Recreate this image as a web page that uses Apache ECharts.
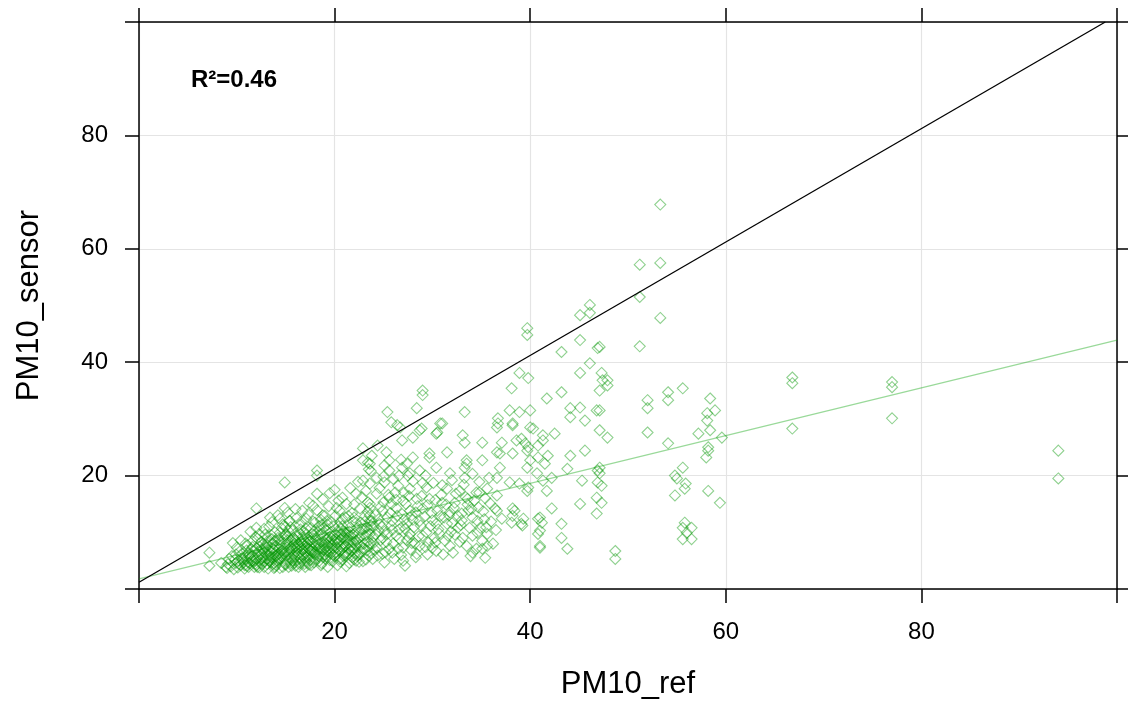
<!DOCTYPE html>
<html>
<head>
<meta charset="utf-8">
<script src="https://cdn.jsdelivr.net/npm/echarts@6/dist/echarts.min.js"></script>
<style>html,body{margin:0;padding:0;background:#fff}#c{width:1128px;height:709px}</style>
</head>
<body>
<div id="c"></div>
<script>
// ---- axis ticks ----
const xTicks = [0, 20, 40, 60, 80, 100];
const yTicks = [0, 20, 40, 60, 80, 100];
const labelledTicks = [20, 40, 60, 80];

// ---- annotation ----
const r2Label = 'R\u00B2=0.46';

// ---- reference lines (PM10_ref, PM10_sensor) ----
const oneToOneLine = [[0, 1.2], [98.8, 100]];
const fitLine = [[0, 1.8], [100, 43.9]];

// ---- observations [PM10_ref, PM10_sensor] ----
const pointsFar = [
  [53.3,67.8],[51.2,57.2],[53.3,57.5],[51.2,51.5],[53.3,47.8],[51.2,42.8],[47.1,42.7],[47.3,38.1],
  [47.4,36.8],[47.9,36.8],[47.9,35.9],[47.1,31.5],[47.1,28.0],[47.9,26.7],[52.0,33.3],[52.0,31.9],
  [54.1,34.7],[54.1,33.3],[55.6,35.4],[58.4,33.6],[58.9,31.5],[58.1,31.0],[58.1,29.7],[52.0,27.6],
  [54.1,25.7],[57.2,27.4],[58.4,28.0],[59.6,26.7],[58.2,25.0],[58.2,24.4],[58.0,23.2],[47.1,21.4],
  [47.1,20.4],[47.3,18.2],[47.3,15.2],[55.6,21.4],[54.8,20.0],[55.0,19.5],[55.9,18.6],[55.8,17.7],
  [54.8,16.5],[58.2,17.3],[59.4,15.2],[55.8,11.7],[55.6,10.8],[56.5,10.8],[56.0,9.9],[55.6,8.8],
  [56.5,8.8],[48.7,6.7],[48.7,5.3],[66.8,37.3],[66.8,36.3],[66.8,28.3],[77.0,36.5],[77.0,35.6],
  [77.0,30.1],[94.0,24.4],[94.0,19.5]
];
const pointsUpper = [
  [46.1,50.1],[45.1,48.3],[46.1,48.7],[39.7,46.0],[39.7,44.8],[45.1,43.9],[43.2,41.8],[46.9,42.5],
  [38.9,38.1],[39.8,37.2],[38.1,35.4],[41.7,33.6],[43.2,34.7],[45.1,38.1],[46.1,39.8],[47.1,35.0],
  [29.0,35.0],[29.0,34.2],[28.4,31.9],[25.4,31.2],[25.8,29.4],[26.7,28.5],[33.3,31.2],[36.7,30.1],
  [37.9,31.5],[38.9,31.2],[40.0,31.5],[44.1,31.9],[45.1,32.0],[46.8,31.5],[44.1,30.3],[45.6,29.7],
  [40.3,28.3],[38.2,29.2],[36.6,28.5],[31.0,29.2],[30.5,27.6],[28.9,28.3],[28.0,26.7],[26.9,26.2],
  [33.1,27.1],[33.3,25.8],[35.1,25.8],[37.1,25.8],[38.6,26.2],[39.5,25.7],[41.3,26.2],[42.5,27.4],
  [29.7,23.9],[31.5,24.1],[36.9,23.9],[38.2,23.9],[39.7,24.4],[40.0,22.7],[40.8,23.2],[41.8,23.5],
  [44.1,23.5],[45.6,24.4],[27.4,22.1],[25.6,22.7],[27.7,20.4],[33.3,21.4],[35.1,22.7],[40.7,20.4],
  [41.5,22.1],[33.5,22.7],[39.7,21.4],[36.6,19.6],[42.2,19.6],[46.9,20.9],[46.9,18.8],[45.3,19.1],
  [43.8,21.2],[39.7,17.3],[41.7,17.3],[46.8,16.1],[45.1,15.0],[46.8,13.3],[42.2,14.2],[38.4,13.8],
  [38.2,12.9],[36.6,13.8],[39.3,12.4],[39.2,11.2],[38.1,11.7],[41.0,12.6],[41.2,11.7],[41.0,10.3],
  [40.8,9.7],[43.2,11.5],[43.2,9.0],[43.8,7.1],[41.0,7.3],
  [14.9,18.8],[18.2,20.9],[22.9,24.8],[12.0,14.2],[12.0,10.8],[7.2,6.4],[7.2,4.1],[14.9,14.3],
  [23.4,22.3],[23.5,21.1],[18.2,20.0],[22.9,19.1],[23.6,18.6],[20.8,16.1],[20.2,14.3],[18.2,16.8],
  [16.7,13.8],[15.4,12.0],[23.6,15.0],[22.9,22.7],[23.7,20.8],[9.6,8.1],[9.0,3.7],[24.4,25.3],
  [25.1,21.8],[23.8,23.5]
];
const pointsMid = [
  [26.4,28.9],[28.7,28.0],[30.4,27.4],[30.8,29.2],[36.7,29.2],[38.2,28.9],[40.0,28.5],[39.1,26.5],
  [39.8,25.0],[40.8,25.3],[41.3,27.1],[25.3,24.1],[28.0,23.2],[29.7,23.2],[33.5,22.1],[36.6,24.1],
  [36.9,21.4],[23.6,22.1],[25.6,20.9],[26.9,21.4],[27.5,20.0],[28.7,20.9],[30.4,21.4],[31.8,20.4],
  [33.3,19.6],[37.9,18.8],[38.9,18.6],[39.8,17.9],[41.3,19.1],[24.3,19.6],[25.1,18.8],[26.5,18.2],
  [27.7,17.7],[29.4,17.9],[31.5,17.7],[32.8,17.3],[34.5,17.0],[35.6,17.7],[36.6,16.5],[24.3,16.8],
  [25.6,16.1],[27.0,15.6],[28.4,15.9],[29.7,15.9],[31.0,15.2],[32.3,15.2],[33.6,15.9],[34.8,17.0],
  [36.4,14.2],[38.2,14.2],[39.1,11.5],[40.8,12.4],[41.0,7.6],[23.6,14.3],[24.9,13.8],[26.3,14.3],
  [27.7,13.8],[29.0,14.2],[30.5,13.8],[31.8,13.5],[33.0,13.3],[34.1,12.6],[23.6,12.0],[24.6,11.5],
  [25.9,12.0],[27.4,11.5],[28.7,12.0],[30.4,11.5],[31.5,11.5],[32.6,10.8],[33.8,10.8],[34.9,10.8],
  [35.6,9.7],[23.6,9.7],[24.9,9.0],[26.3,9.4],[27.7,9.7],[29.0,9.4],[30.2,9.0],[31.6,9.4],
  [33.1,9.0],[34.1,9.4],[35.1,8.5],[24.3,7.3],[25.6,7.1],[27.0,7.3],[28.7,7.6],[30.0,7.3],
  [31.8,7.6],[33.5,7.6],[34.5,7.1],[35.6,7.6],[24.9,6.2],[27.0,5.0],[27.2,4.1],[28.4,6.2],
  [30.4,6.7],[32.1,6.4],[34.1,6.4],[35.1,7.1],
  [24.0,8.1],[24.5,10.3],[25.2,6.5],[25.4,12.6],[26.0,8.0],[26.6,10.5],[26.8,6.0],[27.4,8.6],
  [28.1,10.9],[28.3,5.6],[29.2,12.8],[29.6,8.2],[24.2,13.1],[25.8,15.0],[26.4,12.9],[23.9,5.3],
  [25.1,4.7],[27.9,13.0],[28.9,16.4],[30.6,10.5],[31.2,12.6],[32.2,14.3],[33.4,16.2],[34.3,15.6],
  [35.2,13.7],[30.9,16.6],[32.0,11.6],[24.6,17.8],[26.0,19.4],[27.1,17.0],
  [24.2,9.6],[24.8,11.0],[25.3,8.3],[25.9,10.4],[26.5,7.1],[27.1,12.2],[27.6,9.1],[28.2,8.0],
  [28.8,11.2],[29.4,10.0],[24.7,14.5],[25.5,16.6],[26.2,17.0],[27.3,15.0],[28.5,14.6],[29.9,13.4],
  [24.4,5.9],[26.1,5.3],[27.8,6.9],[29.5,6.1],[25.0,19.8],[26.8,22.8],[28.0,19.0],[29.3,20.0],
  [30.1,18.7],[30.8,12.9],[31.4,14.9],[32.4,16.8],[33.2,18.4],[34.0,14.1],[34.8,18.9],[35.4,16.0],
  [30.3,8.2],[31.1,6.1],[32.8,8.3],[33.9,5.8],[35.4,5.5],[34.6,9.9],[33.0,12.1],[31.9,10.1],
  [36.0,11.9],[35.8,19.6],[35.3,12.3],
  [24.1,7.0],[24.7,8.6],[25.4,9.7],[25.9,6.4],[26.6,8.9],[27.2,10.6],[27.9,8.1],[28.6,9.3],
  [29.3,7.4],[29.8,11.1],[30.7,9.8],[31.3,8.5],[32.3,9.6],[32.9,11.3],[33.7,13.9],[34.6,12.0],
  [35.5,10.9],[24.5,12.3],[25.7,13.4],[26.9,13.2],[28.0,12.2],[29.5,14.8],[30.3,15.7],[31.7,13.0],
  [32.6,12.9],[27.6,16.4],[26.3,15.7],[25.0,15.3],[24.0,11.0],[25.8,11.2],[27.0,11.1],[28.3,13.5],
  [30.0,12.1],[33.6,14.9],[34.7,14.4],[35.9,15.1],[36.2,8.0],[36.5,10.4],[37.1,12.4],[31.0,18.3],
  [32.0,19.2],[34.1,20.3],[29.0,18.7],[26.6,20.0],[25.1,10.1]
];
const pointsCore = [
  [8.4,4.6],[8.9,3.9],[9.2,5.3],[9.4,4.0],[9.9,6.1],[9.7,3.5],[10.2,5.0],[10.0,7.3],[10.4,4.2],
  [10.6,6.2],[10.8,3.6],[10.9,8.0],[11.0,5.4],[11.3,4.5],[11.5,7.0],[11.2,6.3],[11.8,3.9],[11.6,5.8],
  [11.9,9.2],[11.4,10.1],[11.7,4.9],[11.1,7.7],
  [12.2,6.0],[12.3,3.8],[12.5,8.3],[12.4,5.1],[12.7,7.1],[12.6,4.4],[12.9,9.6],[12.8,6.5],[13.0,5.3],
  [13.2,3.6],[13.1,7.8],[13.3,11.0],[13.4,6.1],[13.5,4.7],[13.6,8.8],[13.7,7.2],[13.8,5.6],[13.9,10.0],
  [13.4,12.6],[13.9,3.9],[12.1,8.9],[13.6,6.6],[12.9,4.9],
  [14.0,7.6],[14.1,5.0],[14.2,9.0],[14.3,6.3],[14.4,3.7],[14.5,8.2],[14.6,5.7],[14.7,11.4],[14.8,7.0],
  [14.9,4.4],[15.0,9.7],[15.1,6.6],[15.2,8.6],[15.3,5.2],[15.4,12.0],[15.5,7.3],[15.6,4.1],[15.7,10.3],
  [15.8,6.0],[15.9,8.0],[14.2,13.0],[15.3,3.9],[14.6,6.8],[15.6,5.5],[15.0,11.0],[14.4,9.9],[15.9,7.4],
  [15.8,9.0],
  [16.0,5.0],[16.1,7.1],[16.2,9.4],[16.3,6.2],[16.4,11.3],[16.5,4.6],[16.6,8.3],[16.7,6.8],[16.8,10.2],
  [16.9,5.5],[17.0,7.7],[17.1,12.4],[17.2,9.0],[17.3,6.0],[17.4,4.3],[17.5,8.5],[17.6,10.8],[17.7,7.0],
  [17.8,5.2],[17.9,9.6],[17.4,15.2],[16.3,3.9],[17.0,6.4],[16.5,7.6],[17.8,11.9],[17.2,5.7],[16.9,9.8],
  [17.6,6.6],[16.1,12.5],
  [18.0,6.5],[18.1,8.9],[18.3,5.4],[18.4,11.1],[18.5,7.4],[18.6,9.7],[18.7,4.5],[18.8,13.0],[18.9,6.9],
  [19.0,8.1],[19.1,10.4],[19.2,5.8],[19.3,7.6],[19.4,14.6],[19.5,9.2],[19.6,6.2],[19.7,11.8],[19.8,4.9],
  [19.9,8.6],[18.4,7.9],[19.1,6.7],[18.6,12.2],[19.6,10.0],[19.3,3.9],[18.9,9.4],[19.8,7.2],[18.1,6.0],
  [20.0,9.5],[20.1,6.4],[20.3,7.9],[20.4,11.0],[20.5,5.3],[20.6,8.7],[20.7,6.9],[20.9,10.2],[21.0,7.4],
  [21.1,12.6],[21.2,5.9],[21.3,9.0],[21.4,8.1],[21.5,4.6],[21.6,10.9],[21.7,6.7],[21.8,13.4],[21.9,8.3],
  [20.3,4.2],[21.2,15.0],[20.6,11.8],[21.5,7.0],[20.9,9.1],[21.8,5.6],[20.2,7.3],[21.0,6.0],
  [22.0,9.8],[22.1,7.1],[22.2,11.7],[22.3,5.8],[22.4,8.8],[22.6,14.2],[22.7,6.6],[22.8,10.5],[23.0,8.0],
  [23.1,12.8],[23.2,5.2],[23.3,9.6],[23.5,7.5],[23.7,11.2],[23.8,6.3],[23.9,9.0],[22.5,4.8],[23.4,13.6],
  [22.2,16.8],[23.0,10.6],[22.6,7.8],[23.8,12.0],[22.4,6.0],[23.2,17.3],
  [11.3,6.0],[12.0,5.4],[12.6,6.9],[13.3,4.9],[13.0,7.3],[14.0,5.8],[14.3,8.6],[14.8,6.2],[15.4,7.0],
  [15.1,4.8],[16.0,8.6],[16.2,5.9],[16.8,6.1],[16.4,9.9],[17.3,7.2],[17.1,10.6],[17.9,6.2],[17.7,8.2],
  [18.3,7.0],[18.8,5.6],[18.5,10.3],[19.2,8.7],[19.0,6.0],[19.7,7.9],[20.0,5.8],[20.4,8.4],[20.7,10.6],
  [21.1,7.7],[21.4,6.3],[21.6,9.4],[12.3,7.5],[13.5,9.5],[14.6,10.7],[15.6,8.4],[16.6,7.1],[17.5,5.1],
  [18.0,11.7],[19.4,7.1],[20.1,12.9],[21.3,10.0],[11.9,5.0],[12.8,3.9],[13.7,4.4],[14.7,3.9],[15.9,4.6],
  [16.9,4.4],[17.9,4.7],[18.6,4.2],[19.5,5.1],[20.8,5.1],[22.0,5.2],[11.0,4.1],[10.5,5.4],[9.9,4.6],
  [13.2,8.5],[15.2,9.3],[17.2,8.0],[19.0,12.9],[20.5,13.8],[22.3,10.8]
];
const pointsCoreExtra = [
  [9.1,4.4],[9.5,5.8],[10.1,3.8],[10.3,6.6],[10.7,4.7],[10.9,5.9],[11.2,3.9],[11.5,4.9],[11.8,6.7],
  [12.0,4.2],[10.4,8.6],[11.6,8.4],[11.0,6.8],[9.8,5.2],[12.4,4.6],
  [12.5,6.2],[12.7,5.5],[12.9,7.7],[13.1,4.4],[13.3,6.8],[13.5,5.6],[13.7,8.0],[13.9,6.3],[14.1,4.6],
  [14.3,7.1],[14.5,5.3],[14.7,8.9],[14.9,6.6],[12.8,10.6],[13.6,11.8],[14.4,12.4],[14.9,9.5],[12.3,9.7],
  [13.8,3.7],[14.2,6.0],
  [15.1,7.9],[15.3,6.1],[15.5,4.6],[15.7,8.8],[15.9,5.7],[16.1,6.6],[16.3,8.0],[16.5,5.4],[16.7,9.1],
  [16.9,7.0],[17.1,5.0],[17.3,8.7],[17.5,6.8],[17.7,9.7],[17.9,7.5],[15.2,13.5],[16.0,14.1],[16.6,11.9],
  [17.3,13.2],[17.8,14.7],[15.7,5.0],[16.4,4.4],[17.0,3.9],[15.5,10.9],[16.8,8.8],[17.6,4.2],
  [18.1,7.7],[18.3,9.4],[18.5,6.2],[18.7,8.3],[18.9,10.8],[19.1,5.3],[19.3,9.0],[19.5,6.6],[19.7,8.9],
  [19.9,6.0],[20.1,8.3],[20.3,10.2],[20.5,6.7],[20.7,9.7],[20.9,7.9],[18.2,13.9],[18.8,15.8],[19.5,16.9],
  [20.0,17.5],[20.4,15.6],[19.2,12.0],[18.4,4.9],[20.6,4.8],[19.9,11.0],[18.7,11.3],[20.8,12.4],
  [21.1,6.4],[21.3,8.6],[21.5,10.1],[21.7,7.6],[21.9,9.6],[22.1,6.3],[22.3,8.1],[22.5,9.9],[22.7,11.7],
  [22.9,7.2],[23.1,9.4],[23.3,6.8],[23.5,10.4],[23.7,8.0],[21.4,12.9],[22.0,14.9],[22.8,16.2],[23.4,15.3],
  [21.6,17.8],[22.4,18.9],[21.2,4.0],[22.9,4.9],[23.6,13.0],[21.9,11.9],
  [10.2,4.4],[10.6,5.1],[11.1,4.8],[11.4,5.6],[11.9,4.5],[12.2,6.6],[12.6,5.7],[13.0,6.1],[13.4,5.3],
  [13.8,6.9],[14.2,5.5],[14.6,6.3],[15.0,5.9],[15.4,6.6],[15.8,7.8],[16.2,7.4],[16.6,6.0],[17.0,8.3],
  [17.4,7.0],[17.8,6.5],[18.2,8.2],[18.6,7.1],[19.0,7.3],[19.4,8.2],[19.8,9.3],[20.2,8.8],[20.6,7.5],
  [21.0,8.9],[21.4,9.5],[21.8,7.2],[22.2,8.5],[22.6,9.1],[23.0,7.0],[23.4,8.4],[12.0,7.2],[13.1,9.0],
  [14.4,7.8],[15.6,7.0],[16.7,8.0],[17.8,8.9],[18.9,7.8],[20.0,7.0],[21.1,9.9],[22.2,7.6],[23.3,10.9],
  [11.6,7.4],[12.7,8.0],[13.9,8.5],[15.3,10.2],[16.5,10.5],[17.9,10.2],[19.3,11.3],[20.8,11.1],[22.0,12.6],
  [23.1,11.9],[14.0,4.2],[15.0,4.3],[16.0,4.1],[17.2,4.6],[18.4,5.8],[19.6,5.6],[20.9,5.8],[22.2,5.0],
  [23.5,5.9],[13.2,5.9],[12.1,3.9],[10.8,4.2]
];

const allPoints = pointsCore.concat(pointsCoreExtra, pointsMid, pointsUpper, pointsFar);

const FONT = '"Liberation Sans", Arial, sans-serif';
const chart = echarts.init(document.getElementById('c'), null, {renderer: 'canvas'});

function mkAxis(pos, showLabel) {
  return {
    type: 'value', position: pos, min: 0, max: 100, interval: 20,
    axisLine: {show: true, onZero: false, lineStyle: {color: '#000', width: 1.5}},
    axisTick: {show: true, inside: false, length: 14, lineStyle: {color: '#000', width: 1.5}},
    axisLabel: showLabel ? {
      show: true, margin: 31, fontSize: 24, color: '#000', fontFamily: FONT,
      formatter: v => labelledTicks.indexOf(v) >= 0 ? String(v) : ''
    } : {show: false},
    splitLine: showLabel ? {show: true, lineStyle: {color: '#e4e4e4', width: 1.2}} : {show: false}
  };
}

const xBottom = Object.assign(mkAxis('bottom', true), {
  name: 'PM10_ref', nameLocation: 'middle', nameGap: 80,
  nameTextStyle: {fontSize: 31, color: '#000', fontFamily: FONT}
});
const yLeft = Object.assign(mkAxis('left', true), {
  name: 'PM10_sensor', nameLocation: 'middle', nameGap: 94,
  nameTextStyle: {fontSize: 31, color: '#000', fontFamily: FONT}
});

chart.setOption({
  animation: false,
  backgroundColor: '#fff',
  grid: {left: 139, right: 11, top: 22, bottom: 120, containLabel: false},
  xAxis: [xBottom, mkAxis('top', false)],
  yAxis: [yLeft, mkAxis('right', false)],
  graphic: [{
    type: 'text', x: 191, y: 80,
    style: {text: r2Label, font: 'bold 24px ' + FONT, fill: '#000', verticalAlign: 'middle'}
  }],
  series: [
    {
      type: 'scatter', xAxisIndex: 0, yAxisIndex: 0, data: allPoints,
      symbol: 'diamond', symbolSize: 11, silent: true, z: 2,
      itemStyle: {color: 'rgba(0,0,0,0)', borderColor: 'rgba(0,150,0,0.55)', borderWidth: 1.1}
    },
    {
      type: 'line', data: fitLine, symbol: 'none', silent: true, z: 3,
      lineStyle: {color: 'rgba(0,160,0,0.4)', width: 1.2}
    },
    {
      type: 'line', data: oneToOneLine, symbol: 'none', silent: true, z: 4,
      lineStyle: {color: '#000', width: 1.3}
    }
  ]
});
</script>
</body>
</html>
